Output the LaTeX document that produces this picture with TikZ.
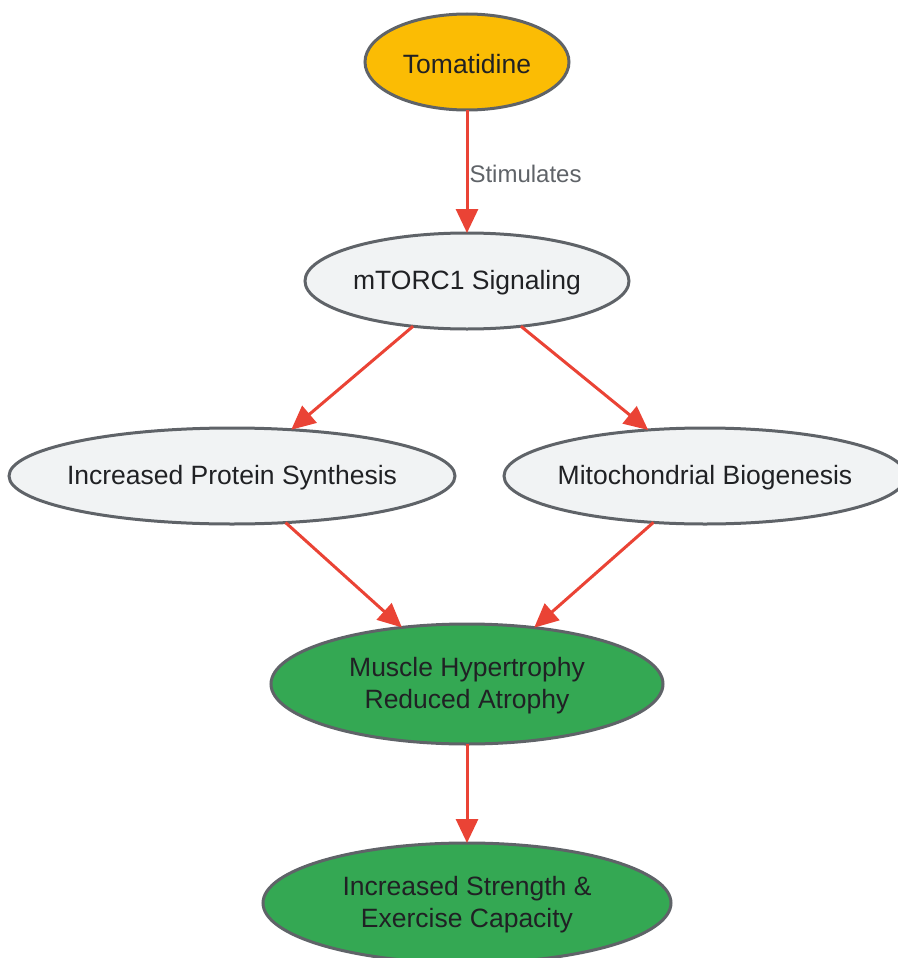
\documentclass[tikz,border=0pt]{standalone}
\usepackage{fontspec}
\setmainfont{Liberation Sans}
\usetikzlibrary{arrows.meta,shapes.geometric}
\definecolor{edgered}{HTML}{EA4335}
\definecolor{strokegray}{HTML}{5F6368}
\definecolor{txtdark}{HTML}{202124}
\definecolor{yellowfill}{HTML}{FBBC04}
\definecolor{lightfill}{HTML}{F1F3F4}
\definecolor{greenfill}{HTML}{34A853}
\tikzset{
  ellshape/.style={draw=strokegray, line width=3pt, ellipse, inner sep=0pt, outer sep=0pt},
  elltext/.style={text=txtdark, align=center, font=\fontsize{26.5}{32}\selectfont, inner sep=0pt, yshift=-2pt},
  conn/.style={draw=edgered, line width=3pt, -{Triangle[length=24pt,width=22pt]}},
  lbl/.style={text=strokegray, font=\fontsize{24}{28}\selectfont, inner sep=0pt}
}
\begin{document}
\begin{tikzpicture}[x=1pt,y=-1pt]
\useasboundingbox (0,0) rectangle (897,958);
\def\ellnode#1#2#3#4#5#6#7{%
  \node[ellshape, fill=#6, minimum width=2*#4 pt, minimum height=2*#5 pt] (#1) at (#2,#3) {};
  \node[elltext] (#1-t) at (#1.center) {#7};}
\ellnode{tom}{467}{62}{102}{48}{yellowfill}{Tomatidine}
\ellnode{mtor}{467}{281}{162}{48}{lightfill}{mTORC1 Signaling}
\ellnode{ips}{232}{476}{223}{48}{lightfill}{Increased Protein Synthesis}
\ellnode{mb}{705}{476}{201}{48}{lightfill}{Mitochondrial Biogenesis}
\ellnode{mh}{467}{684}{196}{60}{greenfill}{Muscle Hypertrophy\\Reduced Atrophy}
\ellnode{is}{467}{903}{204}{60}{greenfill}{Increased Strength \&\\Exercise Capacity}
\draw[conn] (tom.south) -- (mtor.north) node[pos=0.52, right=1pt, lbl] {Stimulates};
\draw[conn] (mtor.-140) -- (ips.38);
\draw[conn] (mtor.-40) -- (mb.141.6);
\draw[conn] (ips.-41) -- (mh.139);
\draw[conn] (mb.-138.9) -- (mh.40);
\draw[conn] (mh.south) -- (is.north);
\end{tikzpicture}
\end{document}
